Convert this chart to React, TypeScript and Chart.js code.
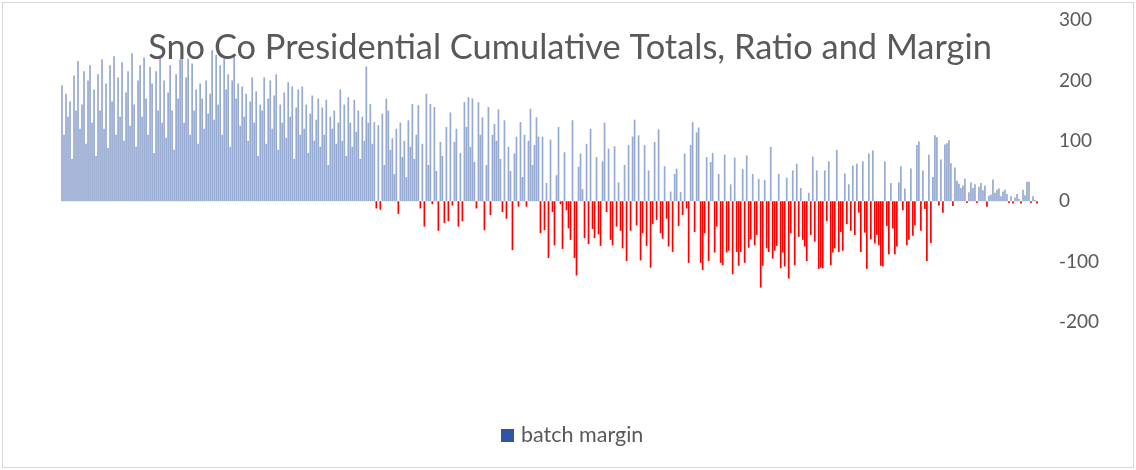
import { useEffect, useRef } from "react";
import { Chart, registerables } from "chart.js";

Chart.register(...registerables);

// Batch margin values, read left to right off the reference (one per batch)
const marginEarly = [
  192, 110, 178, 140, 165, 70, 208, 150, 232, 120,
  160, 215, 95, 200, 225, 130, 185, 75, 210, 150,
  235, 120, 195, 88, 225, 165, 240, 110, 205, 140,
  230, 100, 180, 215, 125, 245, 160, 90, 200, 225,
  140, 238, 170, 110, 222, 195, 80, 215, 150, 240,
  130, 200, 105, 180, 225, 150, 85, 210, 170, 235,
  245, 130, 205, 236, 110, 228, 150, 185, 95, 195,
  170, 120, 200, 145, 178, 250, 135, 242, 160, 225,
  110, 236, 185, 210, 90, 200, 242, 170, 195, 125,
  190, 140, 178, 100, 165, 205, 130, 182, 75, 160,
  150, 205, 95, 170, 200, 120, 175, 210, 85, 160,
  130, 180, 105, 197, 140, 190, 70, 155, 185, 110,
  190, 120, 160, 80, 145, 175, 100, 135, 170, 90,
  155, 110, 168, 60, 140, 120, 150, 95, 130, 185,
  100, 160, 75, 172, 130, 90, 168, 115, 150, 70,
  140, 100, 223, 130,
];

const marginMid1 = [
  161, 95, 131, -12, 126, -14, 145, 60, 170, 150,
  85, 104, 45, 120, -21, 130, 73, 100, 40, 134,
  90, 161, 70, 110, 159, -12, 95, -42, 178, 60,
  161, -5, 156, 50, -49, 98, 75, -36, 123, -33,
  147, -7, 98, 120, -42, 80, -33, 164, 123, 172,
  90, 170, 65, -12, 164, 110,
];

const marginMid2 = [
  139, -48, 60, 156, -23, 110, 128, 100, 152, 70,
  -18, 134, -29, 90, 50, -81, 79, 107, -9, 131,
  40, 110, -9, 100, 153, 60, 93, 139, 107, -53,
  107, -48, 30, -94, 102, -18, -73, 43, 123, -5,
  -79, 81, -15, -45, -64, 134, -94, -123, 57, 79,
  20, -61,
];

const marginMid3 = [
  95, -71, 120, -46, -61, 73, -55, -74, 66, 130,
  -18, 87, -64, -73, 91, -42, 31, -49, -78, 60,
  -99, 93, -49, 107, 135, -40, 109, -98, -53, 93,
  -74, 51, -110, -38, 98, -31, 119, -53, -62, 58,
  -29, -75, 16, -84, 45, 54, -41, 15, -23, 79,
  -12, -102, 93,
];

const marginLate1 = [
  131, -51, 114, 122, -102, -114, -53, 73, -99, 65,
  80, -85, -42, 45, -102, -106, 77, -85, -82, 28,
  -121, 72, -84, -107, -84, 53, -102, 76, -77, -63,
  45, -73, -56, 37, -143, -107, 35, -78, -84, 90,
  -95, -82, -74, 45, -111, -85, -108, 39, -128, -53,
  51, -106,
];

const marginLate2 = [
  62, -59, 22, -64, -75, -99, 14, -56, 74, -67,
  51, -112, -110, -111, 51, -33, 66, -106, -85, -78,
  85, -84, -51, -82, 46, -38, 28, -49, 59, -56,
  62, -19, -84, 66, -52, -112, 79, -63, 84, -70,
  -56, -73, -107, -108, 66, -41, -88, 30, -45, -88,
  -75, 31,
];

const marginFinal = [
  58, -15, 21, -73, -64, 54, -57, -40, 93, 99,
  -49, 51, -13, -99, 77, -69, 40, 109, 106, -7,
  69, -19, 94, 96, 101, 63, -8, 56, 34, 29,
  22, 26, 37, -3, 15, 31, 22, 28, -3, 24,
  30, 18, 26, -9, 9, 11, 36, 14, 19, 21,
  8, 16, 19, 12, -3, 8, -4, 6, 12, 4,
  -4, 19, 10, 32, 32, -3, 8, 2, -4,
];

const batchMargin = [
  ...marginEarly,
  ...marginMid1,
  ...marginMid2,
  ...marginMid3,
  ...marginLate1,
  ...marginLate2,
  ...marginFinal,
];
const batchLabels = batchMargin.map((_, i) => String(i + 1));
const yTickValues = [300, 200, 100, 0, -100, -200];
const titleText = "Sno Co Presidential Cumulative Totals, Ratio and Margin";
const seriesName = "batch margin";

const FONT = "Lato, 'Open Sans', 'DejaVu Sans', sans-serif";
const TEXT_COLOR = "#595959";
const POS_COLOR = "rgba(47, 85, 164, 0.5)";
const NEG_COLOR = "#FF0000";
const LEGEND_COLOR = "#2F55A4";

export default function App() {
  const ref = useRef<HTMLCanvasElement>(null);

  useEffect(() => {
    if (!ref.current) return;
    const overlay = {
      id: "overlay",
      afterDraw(chart: any) {
        const ctx = chart.ctx as CanvasRenderingContext2D;
        ctx.save();
        ctx.strokeStyle = "#d9d9d9";
        ctx.lineWidth = 1;
        ctx.strokeRect(2.5, 2.5, 1131, 465);
        ctx.fillStyle = TEXT_COLOR;
        ctx.font = `34.4px ${FONT}`;
        ctx.textAlign = "center";
        ctx.textBaseline = "alphabetic";
        ctx.fillText(titleText, 570, 59);
        ctx.fillStyle = LEGEND_COLOR;
        ctx.fillRect(501, 429, 13, 13);
        ctx.fillStyle = TEXT_COLOR;
        ctx.font = `21.5px ${FONT}`;
        ctx.textAlign = "left";
        ctx.fillText(seriesName, 521, 442);
        ctx.restore();
      },
    };

    const chart = new Chart(ref.current, {
      type: "bar",
      data: {
        labels: batchLabels,
        datasets: [
          {
            label: seriesName,
            data: batchMargin,
            backgroundColor: batchMargin.map((v) => (v < 0 ? NEG_COLOR : POS_COLOR)),
            borderWidth: 0,
            barPercentage: 0.85,
            categoryPercentage: 1.0,
          },
        ],
      },
      options: {
        responsive: false,
        animation: false,
        events: [],
        layout: { padding: { left: 61, right: 0, top: 20, bottom: 148 } },
        plugins: {
          legend: { display: false },
          title: { display: false },
          tooltip: { enabled: false },
        },
        scales: {
          x: {
            type: "category",
            display: false,
            offset: true,
            grid: { display: false },
          },
          y: {
            position: "right",
            min: -200,
            max: 300,
            afterBuildTicks(scale: any) {
              scale.ticks = yTickValues.map((v) => ({ value: v }));
            },
            afterFit(scale: any) {
              scale.width = 98;
              scale.paddingTop = 0;
              scale.paddingBottom = 0;
            },
            ticks: {
              color: TEXT_COLOR,
              font: { family: FONT, size: 19 },
              padding: 21,
            },
            grid: { display: false, drawTicks: false },
            border: { display: false },
          },
        },
      },
      plugins: [overlay],
    });
    return () => chart.destroy();
  }, []);

  return (
    <div
      style={{
        position: "fixed",
        left: 0,
        top: 0,
        width: 1136,
        height: 470,
        background: "#ffffff",
      }}
    >
      <canvas ref={ref} width={1136} height={470} style={{ display: "block" }} />
    </div>
  );
}
